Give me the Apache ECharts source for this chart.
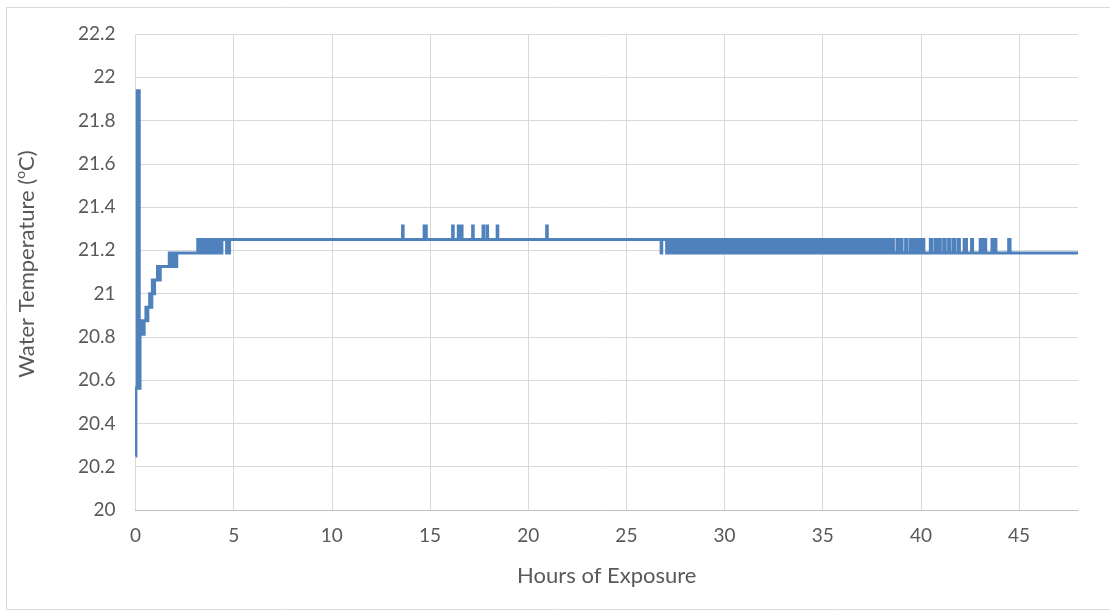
<!DOCTYPE html>
<html>
<head>
<meta charset="utf-8">
<title>Water Temperature</title>
<script src="https://cdn.jsdelivr.net/npm/echarts@6/dist/echarts.min.js"></script>
<style>
  html, body { margin: 0; padding: 0; background: #ffffff; }
  #chart { width: 1110px; height: 616px; }
</style>
</head>
<body>
<div id="chart"></div>
<script>
// Logger readings, hours of exposure vs. water temperature (°C).
// The sensor resolves 1/16 °C, so most readings sit on a few levels.
const LOW = 21.1875;
const HIGH = 21.25;
const PEAK = 21.3125;

// Warm-up: [hour, °C] at every change of reading.
const warmupReadings = [
  [0.00, 20.25], [0.02, 20.5625], [0.09, 21.9375], [0.19, 20.5625],
  [0.23, 20.8125], [0.27, 20.875], [0.31, 20.8125], [0.36, 20.875],
  [0.40, 20.8125], [0.44, 20.875], [0.53, 20.9375], [0.58, 20.875],
  [0.63, 20.9375], [0.72, 21.0], [0.77, 20.9375], [0.83, 21.0],
  [0.86, 21.0625], [0.92, 21.0], [0.97, 21.0625], [1.12, 21.125],
  [1.19, 21.0625], [1.26, 21.125], [1.72, 21.1875], [1.82, 21.125],
  [1.92, 21.1875], [2.02, 21.125], [2.10, 21.1875]
];

// Settling: hours at which the reading toggles LOW <-> HIGH (starts at LOW).
const settlingFlips = [
  3.17, 3.27, 3.36, 3.45, 3.55, 3.64, 3.73, 3.83, 3.92, 4.01,
  4.11, 4.20, 4.29, 4.35, 4.40, 4.64, 4.66, 4.77, 4.79
];

// Brief readings of PEAK over the HIGH plateau: [from, back to HIGH].
const peakSpans = [
  [13.60, 13.63], [14.70, 14.73], [14.78, 14.81], [16.15, 16.18],
  [16.44, 16.47], [16.60, 16.63], [17.17, 17.20], [17.70, 17.73],
  [17.90, 17.93], [18.42, 18.45], [20.94, 20.97]
];

// Cooling off the plateau: hours at which the reading toggles HIGH <-> LOW (starts at HIGH).
const lateFlips = [
  26.77, 26.80, 27.05, 27.08, 27.18, 27.21,
  27.32, 27.43, 27.57, 27.68, 27.79, 27.94, 28.04, 28.17, 28.29, 28.40,
  28.55, 28.65, 28.78, 28.91, 29.03, 29.14, 29.29, 29.40, 29.52, 29.65,
  29.78, 29.89, 30.04, 30.15, 30.27, 30.40, 30.51, 30.66, 30.77, 30.89,
  31.02, 31.13, 31.28, 31.39, 31.51, 31.64, 31.75, 31.90, 32.01, 32.13,
  32.26, 32.37, 32.52, 32.63, 32.75, 32.88, 32.99, 33.14, 33.25, 33.37,
  33.50, 33.61, 33.76, 33.87, 33.99, 34.12, 34.23, 34.38, 34.49, 34.61,
  34.74, 34.85, 35.00, 35.11, 35.23, 35.36, 35.47, 35.62, 35.73, 35.85,
  35.98, 36.09, 36.24, 36.35, 36.47, 36.60, 36.71, 36.86, 36.97, 37.09,
  37.22, 37.33, 37.48, 37.59, 37.71, 37.84, 37.95, 38.10, 38.21, 38.33,
  38.45
];

// Brief HIGH readings over the LOW baseline: [from, back to LOW].
const lateSpikes = [
  [38.52, 38.60], [38.78, 38.86], [38.98, 39.04], [39.22, 39.29],
  [39.46, 39.53], [39.65, 39.72], [39.84, 39.91], [40.04, 40.15],
  [40.48, 40.55], [40.72, 40.82], [40.94, 40.99], [41.16, 41.24],
  [41.41, 41.48], [41.65, 41.72], [41.89, 41.96], [42.20, 42.32],
  [42.58, 42.63], [43.02, 43.10], [43.25, 43.30], [43.62, 43.70],
  [43.77, 43.82], [44.47, 44.54]
];

const lastReading = [48.0, LOW];

const xTicks = { min: 0, max: 48, interval: 5 };
const yTicks = { min: 20, max: 22.2, interval: 0.2 };

// Assemble the change points in time order.
const points = warmupReadings.map(p => p.slice());
let level = LOW;
settlingFlips.forEach(h => { level = (level === LOW) ? HIGH : LOW; points.push([h, level]); });
peakSpans.forEach(([a, b]) => { points.push([a, PEAK], [b, HIGH]); });
level = HIGH;
lateFlips.forEach(h => { level = (level === LOW) ? HIGH : LOW; points.push([h, level]); });
lateSpikes.forEach(([a, b]) => { points.push([a, HIGH], [b, LOW]); });
points.push(lastReading);

const FONT = 'Lato';
const TEXT = '#595959';
const LINE = '#4f81bd';

// One continuous stroke: each reading is held until the next one arrives,
// so every change point adds a horizontal run followed by the jump.
function renderTrace(params, api) {
  if (params.dataIndex !== 0) return null;
  const path = [];
  for (let i = 0; i < points.length; i++) {
    const [t, v] = points[i];
    if (i > 0) path.push(api.coord([t, points[i - 1][1]]));
    path.push(api.coord([t, v]));
  }
  return {
    type: 'polyline',
    shape: { points: path },
    style: { stroke: LINE, lineWidth: 3, fill: null, lineCap: 'butt', lineJoin: 'miter', miterLimit: 4 }
  };
}

const chart = echarts.init(document.getElementById('chart'), null, { renderer: 'canvas' });
chart.setOption({
  animation: false,
  backgroundColor: '#ffffff',
  graphic: [{
    type: 'rect',
    shape: { x: 6.5, y: 7.5, width: 1110, height: 602 },
    style: { fill: 'none', stroke: '#d9d9d9', lineWidth: 1 },
    silent: true,
    z: -10
  }],
  grid: { left: 135.5, right: 32, top: 34, bottom: 106, containLabel: false, outerBoundsMode: 'none' },
  xAxis: {
    type: 'value',
    min: xTicks.min, max: xTicks.max, interval: xTicks.interval,
    name: 'Hours of Exposure',
    nameLocation: 'middle',
    nameGap: 55,
    nameTextStyle: { color: TEXT, fontFamily: FONT, fontSize: 22 },
    axisLine: { show: true, lineStyle: { color: '#bfbfbf', width: 1 } },
    axisTick: { show: false },
    axisLabel: { color: TEXT, fontFamily: FONT, fontSize: 19, margin: 16, showMaxLabel: false },
    splitLine: { show: true, showMaxLine: false, lineStyle: { color: '#d9d9d9', width: 1 } }
  },
  yAxis: {
    type: 'value',
    min: yTicks.min, max: yTicks.max, interval: yTicks.interval,
    name: '{n|Water Temperature (}{s|o}{n|C)}',
    nameLocation: 'middle',
    nameGap: 96,
    nameRotate: 90,
    nameTextStyle: {
      color: TEXT, fontFamily: FONT, fontSize: 22,
      padding: [0, 0, 0, 16],
      rich: {
        n: { color: TEXT, fontFamily: FONT, fontSize: 22, lineHeight: 26 },
        s: { color: TEXT, fontFamily: FONT, fontSize: 14, lineHeight: 26, verticalAlign: 'top' }
      }
    },
    axisLine: { show: false },
    axisTick: { show: false },
    axisLabel: { color: TEXT, fontFamily: FONT, fontSize: 19, margin: 20 },
    splitLine: { show: true, lineStyle: { color: '#d9d9d9', width: 1 } }
  },
  series: [{
    type: 'custom',
    name: 'Water temperature',
    coordinateSystem: 'cartesian2d',
    clip: true,
    encode: { x: 0, y: 1 },
    data: points,
    renderItem: renderTrace,
    silent: true
  }]
});
</script>
</body>
</html>
